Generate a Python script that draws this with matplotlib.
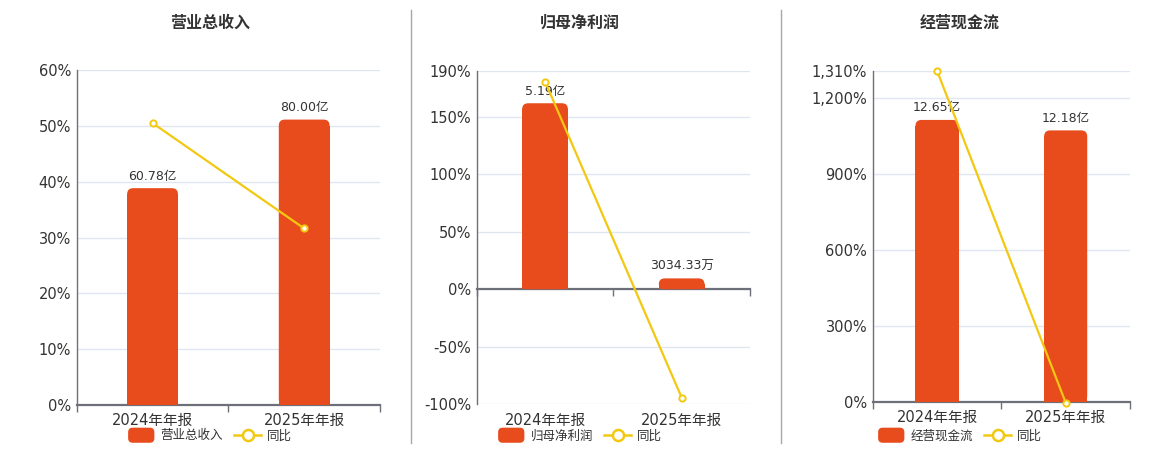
import matplotlib
matplotlib.use('Agg')
import matplotlib.pyplot as plt
from matplotlib.patches import FancyBboxPatch, Rectangle, Patch
from matplotlib.lines import Line2D
from matplotlib.legend_handler import HandlerPatch
from matplotlib.ticker import FuncFormatter

plt.rcParams['font.family'] = ['DejaVu Sans', 'Noto Sans CJK SC']

# data
categories = ['2024年年报', '2025年年报']

revenue = [60.78, 80.00]          # 亿
revenue_labels = ['60.78亿', '80.00亿']
revenue_yoy = [50.5, 31.62]       # %

profit = [5.19, 0.303433]         # 亿
profit_labels = ['5.19亿', '3034.33万']
profit_yoy = [180.6, -94.15]

cash = [12.65, 12.18]             # 亿
cash_labels = ['12.65亿', '12.18亿']
cash_yoy = [1310.0, -3.72]

BAR = '#E84C1D'
LINE = '#F2C811'
AXIS = '#6E7079'
GRID = '#E0E6F1'
TXT = '#333333'

W, H = 1160, 450
fig = plt.figure(figsize=(W / 100, H / 100), dpi=100)


class RoundHandler(HandlerPatch):
    def create_artists(self, legend, orig_handle, xdescent, ydescent,
                       width, height, fontsize, trans):
        # taller rounded swatch, centred on the text line
        h = height * 1.35
        y = -ydescent - (h - height) / 2
        p = FancyBboxPatch((-xdescent, y), width, h,
                           boxstyle=f'round,pad=0,rounding_size={h * 0.3}',
                           fc=orig_handle.get_facecolor(), ec='none',
                           transform=trans)
        return [p]


def px_box(l, t, r, b):
    return [l / W, 1 - b / H, (r - l) / W, (b - t) / H]


def rounded_bar(ax, x, h, w, r_px=6):
    x0, x1 = ax.get_xlim()
    y0, y1 = ax.get_ylim()
    xu = (x1 - x0) / ax.bbox.width
    yu = (y1 - y0) / ax.bbox.height
    ry = r_px * yu
    ax.add_patch(FancyBboxPatch((x - w / 2, 0), w, h,
                                boxstyle=f'round,pad=0,rounding_size={r_px * xu}',
                                mutation_aspect=yu / xu, fc=BAR, ec='none'))
    ax.add_patch(Rectangle((x - w / 2, 0), w, max(h - ry, 0), fc=BAR, ec='none'))


def panel(box, title, cx, name, vals, labels, yoy, pct_lim, pct_ticks, bar_lim):
    ax = fig.add_axes(px_box(*box))
    ax.set_xlim(-0.5, 1.5)
    ax.set_ylim(*pct_lim)
    ax.set_yticks(pct_ticks)
    ax.yaxis.set_major_formatter(FuncFormatter(lambda v, p: f'{v:,.0f}%'))
    ax.tick_params(axis='y', length=0, pad=4, labelsize=10.5, labelcolor=TXT)
    ax.grid(axis='y', color=GRID, lw=1)
    ax.set_axisbelow(True)
    for s in ['top', 'right']:
        ax.spines[s].set_visible(False)
    ax.spines['left'].set_color(AXIS)
    ax.spines['left'].set_linewidth(1)
    ax.spines['bottom'].set_color(AXIS)
    ax.spines['bottom'].set_linewidth(1.6)
    ax.spines['bottom'].set_position(('data', 0))
    ax.set_xticks([-0.5, 0.5, 1.5])
    ax.set_xticklabels([])
    ax.tick_params(axis='x', length=5, width=1, color=AXIS, direction='out')
    for i, c in enumerate(categories):
        ax.annotate(c, xy=(i, 0), xycoords=('data', 'axes fraction'),
                    xytext=(0, -6), textcoords='offset points',
                    ha='center', va='top', fontsize=10.5, color=TXT)

    # bars on hidden axis
    axb = ax.twinx()
    axb.set_ylim(*bar_lim)
    axb.set_xlim(-0.5, 1.5)
    axb.axis('off')
    for i, v in enumerate(vals):
        rounded_bar(axb, i, v, 0.335)
        axb.annotate(labels[i], xy=(i, v), xytext=(0, 4), textcoords='offset points',
                     ha='center', va='bottom', fontsize=9, color=TXT)

    # yoy line on top
    axl = ax.twinx()
    axl.set_ylim(*pct_lim)
    axl.set_xlim(-0.5, 1.5)
    axl.axis('off')
    axl.plot(range(len(yoy)), yoy, color=LINE, lw=1.6, marker='o', ms=4.5,
             mfc='white', mec=LINE, mew=1.4, clip_on=False)

    fig.text(cx / W, 1 - 23 / H, title, ha='center', va='center',
             fontsize=11.5, fontweight='bold', color=TXT)
    handles = [Patch(fc=BAR, ec='none'),
               Line2D([], [], color=LINE, lw=1.8, marker='o', ms=8,
                      mfc='white', mec=LINE, mew=1.8)]
    fig.legend(handles, [name, '同比'], loc='center',
               bbox_to_anchor=(cx / W, 1 - 436 / H), ncol=2, frameon=False,
               fontsize=9, labelcolor=TXT, handlelength=2.1, handleheight=1.0,
               handletextpad=0.5, columnspacing=0.9, borderpad=0,
               handler_map={Patch: RoundHandler()})


panel((76.7, 70, 380, 405), '营业总收入', 210, '营业总收入',
      revenue, revenue_labels, revenue_yoy,
      (0, 60), [0, 10, 20, 30, 40, 50, 60], (0, 93.9))
panel((476.7, 70.7, 750, 404.3), '归母净利润', 580, '归母净利润',
      profit, profit_labels, profit_yoy,
      (-100, 190), [-100, -50, 0, 50, 100, 150, 190], (-3.21, 6.098))
panel((872.7, 70.7, 1130, 401.7), '经营现金流', 960, '经营现金流',
      cash, cash_labels, cash_yoy,
      (0, 1310), [0, 300, 600, 900, 1200, 1310], (0, 14.86))

for xs in [410.5, 780.5]:
    fig.add_artist(Line2D([xs / W, xs / W], [1 - 10 / H, 1 - 443 / H],
                          color='#A8A8A8', lw=1))

fig.savefig('out.png', dpi=100)
